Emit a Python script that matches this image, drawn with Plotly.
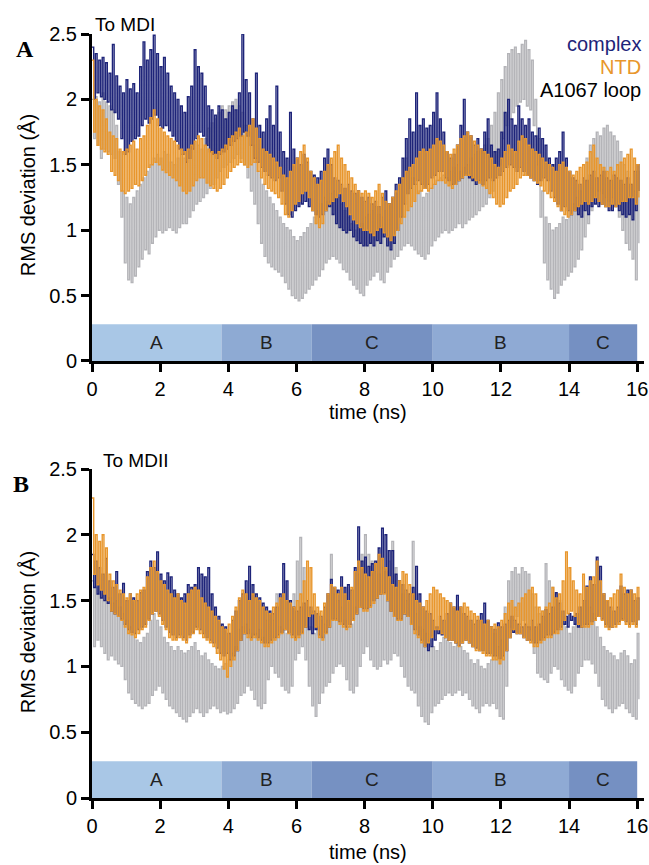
import plotly.graph_objects as go

# time grid (ns), one reading every 0.1 ns
time_ns = [round(i * 0.1, 1) for i in range(161)]

# ---------- Panel A (To MDI): upper / lower envelope readings ----------
complexA_hi = [2.40,2.35,2.30,2.32,2.28,2.20,2.42,2.18,2.10,2.05,
               2.15,2.08,2.12,2.05,2.25,2.44,2.30,2.38,2.49,2.35,
               2.25,2.32,2.20,2.10,2.05,2.00,1.95,1.90,2.02,2.10,
               2.38,2.25,2.20,2.10,1.95,1.92,1.88,1.95,1.92,1.85,
               1.90,1.95,1.92,2.05,2.50,2.15,2.05,1.85,2.20,1.80,
               1.75,1.85,1.95,1.80,2.10,1.75,1.60,1.55,1.90,1.62,
               1.55,1.50,1.58,1.52,1.45,1.42,1.40,1.45,1.55,1.62,
               1.50,1.40,1.38,1.35,1.32,1.35,1.30,1.28,1.30,1.25,
               1.22,1.25,1.20,1.22,1.18,1.25,1.30,1.20,1.25,1.35,
               1.40,1.55,1.70,1.85,1.75,2.05,1.80,1.85,1.78,1.80,
               1.90,2.05,1.85,1.75,1.60,1.55,1.58,1.65,1.80,2.00,
               1.75,1.72,1.65,1.70,1.62,1.75,1.85,1.65,1.60,1.62,
               1.75,1.90,2.00,1.85,1.80,1.95,1.85,1.80,1.85,1.75,
               1.72,1.78,1.70,1.65,1.55,1.50,1.55,1.60,1.75,1.55,
               1.45,1.40,1.38,1.35,1.40,1.38,1.42,1.45,1.40,1.42,
               1.45,1.40,1.38,1.42,1.40,1.38,1.35,1.40,1.35,1.45,
               1.50]
complexA_lo = [2.00,2.05,2.02,2.00,1.98,1.92,1.90,1.85,1.70,1.58,
               1.60,1.68,1.70,1.72,1.80,1.85,1.82,1.85,1.88,1.80,
               1.78,1.80,1.76,1.72,1.68,1.62,1.58,1.52,1.55,1.62,
               1.70,1.75,1.72,1.65,1.60,1.58,1.55,1.58,1.60,1.62,
               1.65,1.68,1.70,1.72,1.75,1.72,1.65,1.55,1.52,1.48,
               1.45,1.42,1.40,1.38,1.40,1.30,1.20,1.12,1.10,1.15,
               1.18,1.20,1.22,1.18,1.15,1.12,1.10,1.12,1.15,1.18,
               1.12,1.05,1.02,1.00,0.98,1.00,0.95,0.92,0.90,0.88,
               0.88,0.90,0.88,0.92,0.90,0.95,0.88,0.85,0.90,1.00,
               1.10,1.20,1.28,1.32,1.35,1.38,1.35,1.32,1.35,1.40,
               1.42,1.45,1.45,1.40,1.38,1.35,1.35,1.38,1.40,1.42,
               1.40,1.38,1.35,1.38,1.35,1.38,1.40,1.38,1.40,1.42,
               1.45,1.48,1.50,1.48,1.45,1.48,1.45,1.42,1.40,1.38,
               1.35,1.38,1.40,1.38,1.30,1.25,1.20,1.15,1.18,1.15,
               1.12,1.15,1.12,1.10,1.15,1.12,1.18,1.20,1.18,1.20,
               1.18,1.15,1.15,1.18,1.15,1.12,1.10,1.12,1.08,1.15,
               1.30]
ntdA_hi = [2.30,2.00,1.95,1.92,1.85,1.75,1.72,1.70,1.62,1.60,
           1.62,1.65,1.68,1.62,1.70,1.72,1.80,1.86,1.92,1.85,
           1.78,1.75,1.72,1.70,1.68,1.65,1.62,1.60,1.62,1.65,
           1.68,1.72,1.70,1.65,1.62,1.60,1.58,1.60,1.62,1.65,
           1.70,1.72,1.75,1.78,1.72,1.75,1.80,1.85,1.78,1.70,
           1.62,1.60,1.58,1.55,1.52,1.48,1.42,1.40,1.45,1.50,
           1.55,1.60,1.65,1.55,1.45,1.40,1.35,1.38,1.45,1.50,
           1.55,1.60,1.65,1.55,1.50,1.45,1.40,1.35,1.30,1.28,
           1.30,1.28,1.25,1.30,1.35,1.28,1.22,1.20,1.25,1.30,
           1.35,1.40,1.45,1.48,1.50,1.55,1.60,1.62,1.60,1.62,
           1.65,1.70,1.68,1.65,1.60,1.58,1.62,1.65,1.70,1.72,
           1.75,1.72,1.68,1.65,1.62,1.60,1.58,1.55,1.50,1.48,
           1.55,1.60,1.65,1.62,1.60,1.68,1.72,1.70,1.65,1.62,
           1.60,1.58,1.55,1.52,1.50,1.48,1.45,1.50,1.52,1.48,
           1.45,1.42,1.45,1.48,1.50,1.52,1.60,1.65,1.55,1.50,
           1.48,1.45,1.48,1.45,1.50,1.52,1.55,1.58,1.62,1.55,
           1.50]
ntdA_lo = [1.75,1.65,1.62,1.60,1.58,1.45,1.42,1.38,1.30,1.28,
           1.30,1.32,1.35,1.34,1.38,1.42,1.48,1.50,1.52,1.50,
           1.46,1.44,1.42,1.40,1.38,1.34,1.30,1.28,1.30,1.34,
           1.38,1.40,1.40,1.36,1.34,1.32,1.30,1.32,1.35,1.40,
           1.45,1.48,1.50,1.52,1.50,1.48,1.50,1.52,1.45,1.40,
           1.35,1.32,1.30,1.28,1.25,1.20,1.12,1.10,1.15,1.20,
           1.22,1.28,1.30,1.25,1.15,1.05,1.02,1.05,1.15,1.20,
           1.22,1.25,1.28,1.22,1.18,1.12,1.08,1.05,1.02,1.00,
           1.00,0.98,0.96,1.00,1.02,0.98,0.95,0.92,0.96,1.00,
           1.05,1.10,1.15,1.18,1.22,1.28,1.30,1.32,1.30,1.32,
           1.35,1.38,1.38,1.36,1.34,1.32,1.35,1.38,1.40,1.42,
           1.42,1.40,1.38,1.36,1.34,1.32,1.28,1.25,1.20,1.18,
           1.20,1.25,1.30,1.32,1.35,1.40,1.42,1.42,1.40,1.38,
           1.36,1.34,1.30,1.28,1.25,1.22,1.18,1.15,1.12,1.10,
           1.12,1.15,1.18,1.20,1.22,1.20,1.22,1.25,1.22,1.20,
           1.18,1.18,1.20,1.18,1.20,1.22,1.22,1.25,1.25,1.20,
           1.25]
loopA_hi = [2.00,2.02,1.98,2.05,1.98,1.95,1.92,1.80,1.60,1.30,
            1.25,1.20,1.25,1.30,1.35,1.40,1.45,1.50,1.55,1.58,
            1.55,1.60,1.58,1.52,1.50,1.55,1.58,1.55,1.60,1.65,
            1.68,1.65,1.62,1.70,1.78,1.82,1.85,1.90,1.95,1.92,
            1.95,1.98,2.00,1.95,1.90,1.80,1.75,1.65,1.55,1.45,
            1.35,1.30,1.25,1.20,1.15,1.10,1.05,1.02,1.00,0.95,
            0.92,0.95,0.98,1.02,1.05,1.10,1.15,1.20,1.25,1.22,
            1.28,1.30,1.25,1.20,1.15,1.10,1.05,1.00,1.02,1.05,
            1.10,1.12,1.15,1.18,1.12,1.10,1.15,1.20,1.25,1.28,
            1.35,1.40,1.55,1.45,1.40,1.35,1.30,1.25,1.28,1.32,
            1.35,1.38,1.40,1.42,1.40,1.45,1.48,1.50,1.45,1.48,
            1.50,1.55,1.58,1.60,1.62,1.65,1.70,1.80,1.90,2.05,
            2.15,2.25,2.35,2.38,2.40,2.35,2.42,2.45,2.38,2.30,
            2.00,1.70,1.30,1.10,1.05,1.00,1.02,1.05,1.10,1.08,
            1.15,1.20,1.25,1.30,1.38,1.55,1.65,1.70,1.75,1.72,
            1.78,1.80,1.75,1.72,1.68,1.60,1.50,1.45,1.35,1.30,
            1.45]
loopA_lo = [1.70,1.65,1.55,1.62,1.60,1.58,1.55,1.35,1.10,0.75,
            0.62,0.60,0.65,0.72,0.78,0.85,0.82,0.90,0.95,1.00,
            0.98,1.00,1.02,1.00,0.98,1.02,1.05,1.05,1.10,1.15,
            1.20,1.22,1.25,1.28,1.32,1.35,1.40,1.45,1.48,1.50,
            1.52,1.55,1.58,1.55,1.50,1.40,1.30,1.20,1.05,0.90,
            0.80,0.75,0.72,0.70,0.68,0.65,0.60,0.55,0.50,0.48,
            0.46,0.48,0.52,0.55,0.58,0.62,0.65,0.70,0.75,0.78,
            0.80,0.78,0.75,0.70,0.68,0.62,0.58,0.55,0.52,0.50,
            0.58,0.62,0.65,0.68,0.62,0.60,0.68,0.72,0.78,0.80,
            0.85,0.88,0.90,0.88,0.85,0.82,0.80,0.78,0.82,0.88,
            0.92,0.95,0.98,1.00,0.98,1.00,1.02,1.05,1.02,1.05,
            1.08,1.10,1.12,1.15,1.18,1.20,1.25,1.30,1.40,1.50,
            1.70,1.80,1.85,1.90,1.95,1.98,2.00,1.95,1.92,1.80,
            1.50,1.10,0.75,0.62,0.55,0.48,0.52,0.58,0.62,0.65,
            0.68,0.72,0.78,0.85,0.95,1.05,1.15,1.25,1.30,1.28,
            1.25,1.22,1.25,1.20,1.10,1.00,0.90,0.85,0.78,0.62,
            0.90]

# ---------- Panel B (To MDII) ----------
complexB_hi = [1.85,1.80,1.75,1.70,1.82,1.65,1.60,1.72,1.55,1.63,
               1.50,1.55,1.52,1.50,1.56,1.58,1.72,1.80,1.75,1.87,
               1.70,1.65,1.71,1.68,1.58,1.55,1.52,1.55,1.62,1.60,
               1.62,1.75,1.70,1.68,1.75,1.55,1.45,1.38,1.32,1.30,
               1.25,1.35,1.42,1.50,1.55,1.65,1.76,1.62,1.55,1.52,
               1.48,1.45,1.42,1.40,1.45,1.55,1.78,1.65,1.50,1.45,
               1.42,1.45,1.48,1.50,1.45,1.42,1.40,1.38,1.45,1.55,
               1.66,1.60,1.58,1.68,1.60,1.62,1.58,1.75,2.06,1.80,
               1.83,1.76,1.78,1.80,1.90,2.05,2.00,1.88,1.88,1.70,
               1.65,1.62,1.58,1.55,1.60,1.76,1.55,1.45,1.42,1.40,
               1.35,1.30,1.38,1.35,1.40,1.48,1.45,1.54,1.45,1.40,
               1.38,1.35,1.32,1.35,1.40,1.48,1.35,1.30,1.28,1.33,
               1.30,1.32,1.35,1.38,1.35,1.32,1.30,1.32,1.30,1.35,
               1.30,1.32,1.38,1.43,1.40,1.45,1.56,1.48,1.42,1.38,
               1.40,1.38,1.40,1.45,1.50,1.61,1.68,1.62,1.83,1.76,
               1.55,1.50,1.45,1.42,1.45,1.61,1.55,1.58,1.58,1.50,
               1.52]
complexB_lo = [1.60,1.55,1.52,1.50,1.48,1.42,1.40,1.38,1.36,1.32,
               1.28,1.26,1.25,1.28,1.30,1.32,1.36,1.40,1.42,1.40,
               1.35,1.30,1.26,1.24,1.22,1.24,1.22,1.20,1.24,1.26,
               1.30,1.28,1.25,1.22,1.20,1.18,1.14,1.10,1.08,1.10,
               1.05,1.08,1.12,1.20,1.25,1.25,1.22,1.24,1.22,1.20,
               1.18,1.18,1.20,1.22,1.24,1.26,1.28,1.26,1.24,1.22,
               1.24,1.26,1.30,1.28,1.25,1.28,1.24,1.22,1.26,1.30,
               1.36,1.36,1.34,1.32,1.30,1.32,1.36,1.40,1.45,1.44,
               1.44,1.46,1.50,1.52,1.55,1.56,1.50,1.42,1.38,1.36,
               1.36,1.40,1.38,1.32,1.28,1.24,1.20,1.15,1.12,1.15,
               1.20,1.25,1.24,1.22,1.20,1.20,1.18,1.16,1.18,1.20,
               1.18,1.15,1.14,1.12,1.12,1.10,1.10,1.08,1.08,1.06,
               1.08,1.12,1.22,1.26,1.25,1.25,1.22,1.20,1.20,1.18,
               1.18,1.20,1.22,1.24,1.24,1.26,1.28,1.30,1.32,1.30,
               1.35,1.32,1.30,1.30,1.32,1.32,1.34,1.36,1.38,1.36,
               1.32,1.30,1.30,1.32,1.34,1.36,1.34,1.32,1.34,1.32,
               1.35]
ntdB_hi = [2.28,2.00,1.95,2.00,1.90,1.70,1.65,1.62,1.58,1.55,
           1.52,1.55,1.50,1.55,1.58,1.60,1.68,1.75,1.80,1.72,
           1.65,1.62,1.58,1.55,1.52,1.55,1.50,1.48,1.55,1.58,
           1.60,1.58,1.52,1.48,1.45,1.42,1.38,1.35,1.30,1.28,
           1.32,1.38,1.45,1.52,1.58,1.55,1.50,1.55,1.52,1.50,
           1.45,1.42,1.40,1.45,1.48,1.52,1.55,1.50,1.48,1.45,
           1.50,1.55,1.65,1.80,1.75,1.55,1.45,1.42,1.48,1.55,
           1.62,1.60,1.55,1.60,1.55,1.50,1.60,1.72,1.80,1.75,
           1.70,1.68,1.72,1.78,1.85,1.82,1.75,1.68,1.62,1.60,
           1.65,1.72,1.70,1.62,1.55,1.50,1.48,1.45,1.50,1.55,
           1.60,1.58,1.55,1.52,1.50,1.48,1.45,1.42,1.45,1.48,
           1.45,1.42,1.40,1.38,1.35,1.32,1.35,1.30,1.32,1.30,
           1.35,1.40,1.48,1.50,1.45,1.48,1.52,1.55,1.58,1.60,
           1.55,1.45,1.42,1.45,1.48,1.60,1.52,1.55,1.65,1.87,
           1.75,1.65,1.58,1.55,1.70,1.60,1.65,1.68,1.80,1.65,
           1.55,1.50,1.52,1.55,1.58,1.70,1.60,1.55,1.58,1.55,
           1.60]
ntdB_lo = [1.70,1.62,1.58,1.55,1.50,1.42,1.40,1.38,1.35,1.30,
           1.25,1.24,1.22,1.25,1.28,1.30,1.35,1.40,1.42,1.38,
           1.32,1.28,1.22,1.20,1.20,1.22,1.20,1.18,1.22,1.25,
           1.28,1.25,1.22,1.20,1.18,1.15,1.10,1.05,0.98,0.92,
           1.00,1.05,1.12,1.20,1.25,1.22,1.20,1.22,1.20,1.18,
           1.15,1.15,1.18,1.20,1.22,1.25,1.28,1.25,1.22,1.20,
           1.22,1.25,1.30,1.38,1.40,1.30,1.22,1.20,1.25,1.30,
           1.35,1.35,1.32,1.30,1.28,1.30,1.35,1.40,1.45,1.42,
           1.42,1.45,1.48,1.52,1.55,1.55,1.50,1.42,1.38,1.35,
           1.35,1.40,1.38,1.32,1.25,1.22,1.18,1.15,1.18,1.22,
           1.28,1.28,1.25,1.22,1.20,1.20,1.18,1.15,1.18,1.20,
           1.18,1.15,1.12,1.12,1.10,1.08,1.08,1.05,1.05,1.02,
           1.05,1.12,1.22,1.28,1.25,1.25,1.22,1.20,1.18,1.15,
           1.15,1.18,1.20,1.22,1.22,1.25,1.25,1.28,1.35,1.40,
           1.42,1.38,1.32,1.30,1.30,1.30,1.32,1.35,1.38,1.35,
           1.30,1.28,1.30,1.30,1.32,1.35,1.32,1.30,1.32,1.30,
           1.35]
loopB_hi = [1.65,1.60,1.62,1.55,1.50,1.52,1.48,1.50,1.45,1.40,
            1.35,1.30,1.25,1.20,1.18,1.22,1.25,1.35,1.40,1.35,
            1.30,1.22,1.18,1.15,1.12,1.15,1.12,1.10,1.12,1.15,
            1.18,1.12,1.08,1.10,1.05,1.02,1.00,0.98,1.00,1.02,
            1.05,1.10,1.15,1.28,1.30,1.32,1.28,1.25,1.25,1.28,
            1.22,1.35,1.40,1.35,1.55,1.30,1.28,1.25,1.35,1.55,
            1.80,1.98,1.75,1.45,1.30,1.25,1.30,1.35,1.32,1.35,
            1.85,1.55,1.50,1.45,1.35,1.30,1.32,1.45,1.70,1.85,
            2.00,1.85,1.80,1.72,1.70,1.75,1.72,1.80,1.95,1.75,
            1.65,1.55,1.50,1.55,1.95,1.40,1.30,1.28,1.25,1.20,
            1.15,1.12,1.18,1.22,1.20,1.18,1.15,1.18,1.15,1.12,
            1.10,1.05,1.02,1.05,1.00,0.98,1.02,1.05,1.25,1.15,
            1.20,1.45,1.65,1.72,1.75,1.70,1.75,1.72,1.70,1.55,
            1.45,1.40,1.42,1.78,1.65,1.60,1.55,1.50,1.35,1.30,
            1.25,1.30,1.40,1.45,1.48,1.50,1.45,1.40,1.30,1.22,
            1.15,1.12,1.10,1.08,1.05,1.10,1.12,1.08,1.02,1.05,
            1.25]
loopB_lo = [1.15,1.20,1.15,1.10,1.05,1.08,1.05,1.02,1.00,0.90,
            0.80,0.75,0.72,0.70,0.68,0.70,0.72,0.78,0.82,0.85,
            0.80,0.75,0.70,0.68,0.65,0.62,0.60,0.58,0.62,0.65,
            0.68,0.65,0.62,0.65,0.68,0.70,0.68,0.65,0.66,0.64,
            0.65,0.68,0.72,0.78,0.80,0.85,0.82,0.75,0.70,0.68,
            0.72,0.90,1.00,0.95,0.92,0.85,0.82,0.80,0.85,1.05,
            1.10,1.15,1.05,0.85,0.70,0.62,0.72,0.80,0.85,0.88,
            0.95,1.00,1.02,1.00,0.90,0.82,0.80,0.85,1.00,1.10,
            1.15,1.05,1.00,0.98,1.00,1.05,1.02,1.05,1.10,1.08,
            1.00,0.92,0.85,0.82,0.80,0.70,0.62,0.58,0.56,0.65,
            0.70,0.72,0.75,0.78,0.80,0.78,0.80,0.82,0.78,0.80,
            0.75,0.70,0.68,0.65,0.70,0.72,0.70,0.72,0.68,0.62,
            0.60,0.85,1.30,1.35,1.38,1.32,1.35,1.30,1.28,1.10,
            0.95,0.92,0.90,0.88,0.95,1.00,0.98,0.90,0.85,0.82,
            0.80,0.85,0.95,1.00,1.05,1.05,1.02,0.95,0.85,0.75,
            0.70,0.68,0.65,0.68,0.70,0.72,0.68,0.65,0.62,0.60,
            0.75]

# conformational-state bands
band_labels = ["A", "B", "C", "B", "C"]
band_start = [0.0, 3.8, 6.45, 10.0, 14.0]
band_end = [3.8, 6.45, 10.0, 14.0, 16.0]
band_colors = ["#a9c7e6", "#8eaad3", "#7691c2", "#8faad4", "#7590c2"]
band_top = 0.28

y_ticks = [0, 0.5, 1, 1.5, 2, 2.5]
y_ticktext = ["0", "0.5", "1", "1.5", "2", "2.5"]
x_ticks = [0, 2, 4, 6, 8, 10, 12, 14, 16]

C_COMPLEX = "#1e2479"
C_NTD = "#e8962c"
C_LOOP = "#b4b4b8"
FONT = "Liberation Sans, Arial, sans-serif"


def zigzag(hi, lo):
    xs, ys = [], []
    for t, h, l in zip(time_ns, hi, lo):
        xs += [t, t + 0.05]
        ys += [h, l]
    return xs, ys


fig = go.Figure()
panels = [
    ("x", "y", loopA_hi, loopA_lo, complexA_hi, complexA_lo, ntdA_hi, ntdA_lo),
    ("x2", "y2", loopB_hi, loopB_lo, complexB_hi, complexB_lo, ntdB_hi, ntdB_lo),
]
for xa, ya, lh, ll, ch, cl, nh, nl in panels:
    for hi, lo, col, name in [(lh, ll, C_LOOP, "A1067 loop"),
                              (ch, cl, C_COMPLEX, "complex"),
                              (nh, nl, C_NTD, "NTD")]:
        xs, ys = zigzag(hi, lo)
        fig.add_trace(go.Scatter(x=xs, y=ys, mode="lines", name=name,
                                 line=dict(color=col, width=1.4, shape="hv"),
                                 xaxis=xa, yaxis=ya, showlegend=False,
                                 hoverinfo="skip"))

shapes = []
annotations = []
for xr, yr in [("x", "y"), ("x2", "y2")]:
    for lab, s, e, c in zip(band_labels, band_start, band_end, band_colors):
        shapes.append(dict(type="rect", xref=xr, yref=yr, x0=s, x1=e,
                           y0=0, y1=band_top, fillcolor=c, line_width=0,
                           layer="below"))
        annotations.append(dict(x=(s + e) / 2, y=band_top / 2, xref=xr, yref=yr,
                                text=lab, showarrow=False,
                                font=dict(size=19, color="#222", family=FONT)))

ax_common = dict(showline=True, linewidth=3, linecolor="black", ticks="outside",
                 ticklen=8, tickwidth=2.5, tickcolor="black", showgrid=False,
                 zeroline=False, automargin=False,
                 tickfont=dict(size=20, color="black", family=FONT))

fig.update_layout(
    width=649, height=865,
    margin=dict(l=92, r=5, t=34, b=67),
    plot_bgcolor="white", paper_bgcolor="white",
    xaxis=dict(domain=[0, 1], range=[0, 16.2], tickvals=x_ticks, anchor="y",
               **ax_common),
    yaxis=dict(domain=[0.572, 1], range=[0, 2.5], tickvals=y_ticks,
               ticktext=y_ticktext, anchor="x", **ax_common),
    xaxis2=dict(domain=[0, 1], range=[0, 16.2], tickvals=x_ticks, anchor="y2",
                **ax_common),
    yaxis2=dict(domain=[0, 0.4306], range=[0, 2.5], tickvals=y_ticks,
                ticktext=y_ticktext, anchor="x2", **ax_common),
    shapes=shapes,
)

txt = lambda **k: annotations.append(dict(showarrow=False, xref="paper", yref="paper", **k))
txt(x=0.002, y=1.013, text="To MDI", xanchor="left", yanchor="middle",
    font=dict(size=19, color="black", family=FONT))
txt(x=0.016, y=0.442, text="To MDII", xanchor="left", yanchor="middle",
    font=dict(size=19, color="black", family=FONT))
txt(x=-0.121, y=0.980, text="<b>A</b>", xanchor="center", yanchor="middle",
    font=dict(size=24, color="black", family="Liberation Serif, serif"))
txt(x=-0.129, y=0.411, text="<b>B</b>", xanchor="center", yanchor="middle",
    font=dict(size=24, color="black", family="Liberation Serif, serif"))
txt(x=0.998, y=0.987, text="complex", xanchor="right", yanchor="middle",
    font=dict(size=20, color=C_COMPLEX, family=FONT))
txt(x=0.998, y=0.957, text="NTD", xanchor="right", yanchor="middle",
    font=dict(size=20, color=C_NTD, family=FONT))
txt(x=0.998, y=0.927, text="A1067 loop", xanchor="right", yanchor="middle",
    font=dict(size=20, color="black", family=FONT))
txt(x=0.5, y=(798 - 412) / 764, text="time (ns)", xanchor="center", yanchor="middle",
    font=dict(size=20, color="black", family=FONT))
txt(x=0.5, y=(798 - 852) / 764, text="time (ns)", xanchor="center", yanchor="middle",
    font=dict(size=20, color="black", family=FONT))
txt(x=-0.116, y=0.789, text="RMS deviation (Å)", textangle=-90, xanchor="center",
    yanchor="middle", font=dict(size=20, color="black", family=FONT))
txt(x=-0.116, y=0.217, text="RMS deviation (Å)", textangle=-90, xanchor="center",
    yanchor="middle", font=dict(size=20, color="black", family=FONT))

fig.update_layout(annotations=annotations)
# remove the browser's default 8 px body margin so the 649x865 figure fills the window
fig.write_html("out.html",
               config={"displayModeBar": False},
               post_script="document.body.style.margin='0';"
                           "document.body.style.overflow='hidden';")
